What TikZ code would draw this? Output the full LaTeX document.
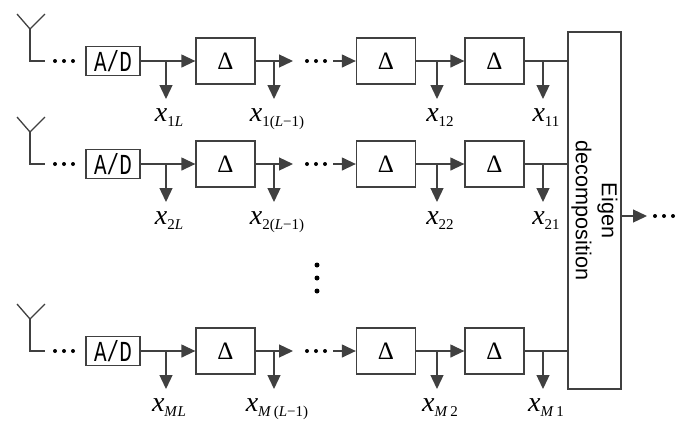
\documentclass[tikz,border=0pt]{standalone}
\usepackage{fontspec}
\setmainfont{Liberation Serif}
\newfontfamily\adfont[FakeStretch=0.72]{Liberation Mono}
\newfontfamily\eigfont{Liberation Sans}
\usetikzlibrary{arrows.meta}
\newcommand{\sub}[1]{\raisebox{-2.5pt}{\fontsize{7.5}{8}\selectfont #1}}
\newcommand{\dotrow}[2]{\foreach \k in {-9,0,9} \fill (#1+\k,#2) circle (2);}

\tikzset{
  wire/.style={draw=black!75, line width=0.65pt},
  arr/.style={wire, -{Triangle[length=7pt,width=6.5pt]}},
  adbox/.style={wire, rectangle, minimum width=27pt, minimum height=14.5pt, inner sep=0pt, font=\adfont\fontsize{14.5}{15}\selectfont},
  delay/.style={wire, rectangle, minimum width=29.5pt, minimum height=23pt, inner sep=0pt, font=\fontsize{12.5}{13}\selectfont},
  xlab/.style={anchor=north, inner sep=0pt, xshift=1.5pt, font=\fontsize{14}{15}\selectfont},
}

\begin{document}
\begin{tikzpicture}[x=0.5pt, y=-0.5pt]
      \useasboundingbox (0,0) rectangle (686,435);
      \node[wire, minimum width=26.5pt, minimum height=178.5pt, inner sep=0pt] (eig) at (594.5,210.5) {};
      \node[rotate=-90, align=center, font=\eigfont\fontsize{10.8}{13}\selectfont] (eigtxt) at (eig.center) {Eigen\\decomposition};
      \foreach \y/\r/\n/\s in {61/1/1/{}, 164/2/2/{}, 351/M/\textit{M}/\,} {
        % antenna
        \draw[wire] (17,\y-47) -- (30,\y-32) -- (45,\y-47);
        \draw[wire] (30,\y-32) -- (30,\y) -- (45,\y);
        \dotrow{64}{\y}
        \node[adbox] (ad\r) at (113,\y) {A/D};
        \node[delay] (d\r a) at (225.5,\y) {Δ};
        \node[delay] (d\r c) at (386,\y) {Δ};
        \node[delay] (d\r d) at (494.5,\y) {Δ};
        \coordinate (t\r a) at (166,\y);
        \coordinate (t\r b) at (274,\y);
        \coordinate (t\r c) at (437,\y);
        \coordinate (t\r d) at (543,\y);
        \coordinate (e\r) at (293,\y);
        \coordinate (s\r) at (333,\y);
        \node[xlab] (x\r a) at (166,\y+47) {\textit{x}\sub{\n\textit{L}}};
        \node[xlab] (x\r b) at (274,\y+47) {\textit{x}\sub{\n\s(\textit{L}−1)}};
        \node[xlab] (x\r c) at (437,\y+47) {\textit{x}\sub{\n\s2}};
        \node[xlab] (x\r d) at (543,\y+47) {\textit{x}\sub{\n\s1}};
        \draw[arr] (ad\r) -- (d\r a);
        \draw[arr] (d\r a) -- (e\r);
        \dotrow{316}{\y}
        \draw[arr] (s\r) -- (d\r c);
        \draw[arr] (d\r c) -- (d\r d);
        \draw[wire] (d\r d) -- (d\r d -| eig.west);
        \foreach \t in {a,b,c,d}
          \draw[arr, shorten >=4.5pt] (t\r\t) -- (t\r\t |- x\r\t.north);
      }
      \foreach \v in {265,278,291} \fill (317,\v) circle (2.5);
      \coordinate (out) at (647,216);
      \draw[arr] (eig.east |- out) -- (out);
      \dotrow{664}{216}
    \end{tikzpicture}
\end{document}
